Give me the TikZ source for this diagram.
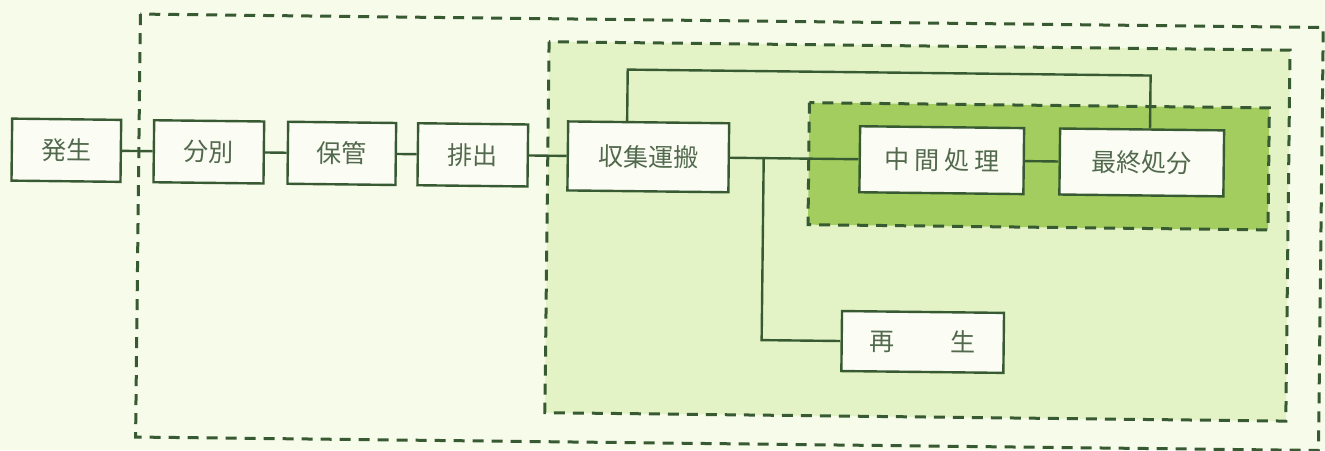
\documentclass[tikz,border=0pt]{standalone}
\usepackage{fontspec}
\newfontfamily\jp{Noto Sans CJK JP}
\definecolor{bg}{HTML}{F7FBEA}
\definecolor{lg}{HTML}{E4F3C6}
\definecolor{dg}{HTML}{A3CD5E}
\definecolor{ln}{HTML}{375A33}
\definecolor{tx}{HTML}{52694D}
\definecolor{bx}{HTML}{FBFDF4}
\begin{document}
\begin{tikzpicture}[x=0.5pt,y=-0.5pt,
  box/.style={draw=ln,line width=1.2pt,fill=bx,inner sep=0pt,
    font=\jp\fontsize{12.5pt}{14pt}\selectfont,text=tx},
  conn/.style={draw=ln,line width=1.2pt},
  dashbox/.style={draw=ln,line width=1.5pt,dash pattern=on 5.5pt off 4pt}]
\useasboundingbox (0,0) rectangle (1325,450);
\fill[bg] (0,0) rectangle (1325,450);
\begin{scope}[rotate around={-0.65:(662,225)},transform shape]
  \fill[lg] (547,43) rectangle (1288,414);
  \fill[dg] (808,101) rectangle (1268,223);
  \draw[dashbox] (138,20) rectangle (1321,443);
  \draw[dashbox] (547,43) rectangle (1288,414);
  \draw[dashbox] (808,101) rectangle (1268,223);

  \node[box,minimum width=54.5pt,minimum height=31pt] (hassei) at (65.5,157) {発生};
  \node[box,minimum width=55pt,minimum height=31pt] (bunbetsu) at (208,157) {分別};
  \node[box,minimum width=54pt,minimum height=31pt] (hokan) at (341,157) {保管};
  \node[box,minimum width=55pt,minimum height=31pt] (haishutsu) at (472,157) {排出};
  \node[box,minimum width=80.5pt,minimum height=34.5pt] (shushu) at (647.5,157) {収集運搬};
  \node[box,minimum width=82pt,minimum height=33pt] (chukan) at (941,157) {中\hspace{2.5pt}間\hspace{2.5pt}処\hspace{2.5pt}理};
  \node[box,minimum width=82pt,minimum height=33pt] (saishu) at (1141,157) {最終処分};
  \node[box,minimum width=81pt,minimum height=30pt] (saisei) at (924,339) {再\hspace{28pt}生};

  \coordinate (loopL) at (626,70);
  \coordinate (loopR) at (1149,70);
  \coordinate (br) at (763,157);

  \draw[conn] (hassei.east) -- (bunbetsu.west);
  \draw[conn] (bunbetsu.east) -- (hokan.west);
  \draw[conn] (hokan.east) -- (haishutsu.west);
  \draw[conn] (haishutsu.east) -- (shushu.west);
  \draw[conn] (shushu.east) -- (chukan.west);
  \draw[conn] (chukan.east) -- (saishu.west);
  \draw[conn] (loopL |- shushu.north) -- (loopL) -- (loopR) -- (loopR |- saishu.north);
  \draw[conn] (br) |- (saisei.west);
\end{scope}
\end{tikzpicture}
\end{document}
